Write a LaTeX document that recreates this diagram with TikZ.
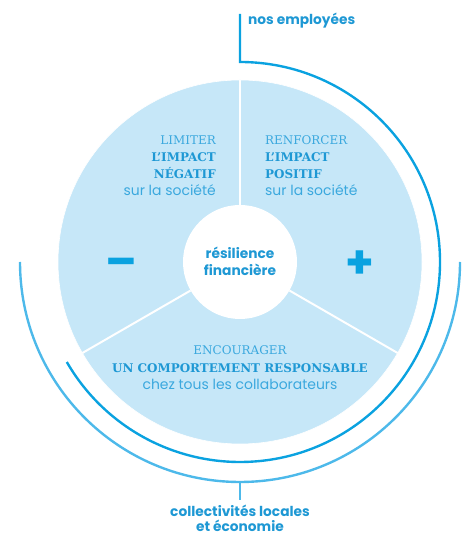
\documentclass[tikz,border=0pt]{standalone}
\usepackage{fontspec}
\setmainfont{DejaVu Serif}
\newfontfamily\pop{Poppins}
\definecolor{fillblue}{HTML}{C6E7F8}
\definecolor{txtlight}{HTML}{3AA8DE}
\definecolor{txtbold}{HTML}{1E98D4}
\definecolor{darkline}{HTML}{0AA2E0}
\definecolor{lightline}{HTML}{4DB9EA}
\tikzset{
  slablight/.style={inner sep=0pt, text=txtlight, font=\fontsize{12}{15}\selectfont},
  slabbold/.style={inner sep=0pt, text=txtbold, font=\fontsize{12}{15}\selectfont\bfseries},
  sanslight/.style={inner sep=0pt, text=txtlight, font=\pop\fontsize{14}{15}\selectfont},
  sansbold/.style={inner sep=0pt, text=txtbold, font=\pop\fontsize{13.8}{15}\selectfont\bfseries},
  signstyle/.style={inner sep=0pt, text=darkline, font=\pop\fontsize{46}{46}\selectfont\bfseries},
}
\begin{document}
\begin{tikzpicture}[x=1bp,y=1bp]
\useasboundingbox (0,0) rectangle (468,537);
\coordinate (O) at (240,275);
% disc
\fill[fillblue] (O) circle[radius=182];
\draw[white, line width=0.6] (O) circle[radius=182];
% dividers
\draw[white, line width=2] (O) ++(90:57) -- ++(90:125);
\draw[white, line width=2] (O) ++(210:57) -- ++(210:125);
\draw[white, line width=2] (O) ++(330:57) -- ++(330:125);
\fill[white] (O) circle[radius=57];
% inner arc (nos employees)
\coordinate (topend) at (240,523);
\draw[darkline, line width=2.4] (topend) -- (240,475) arc[start angle=90, end angle=-150, radius=200];
% outer arc (collectivites)
\coordinate (botend) at (240,37);
\draw[lightline, line width=2.4] (20,275) arc[start angle=180, end angle=360, radius=220];
\draw[lightline, line width=2.4] (240,55) -- (botend);
% labels outside
\node[sansbold, anchor=base west] (emp) at (248,512) {nos employées};
\node[sansbold, anchor=base] (col1) at (240,20) {collectivités locales};
\node[sansbold, anchor=base] (col2) at (240,5.5) {et économie};
% left block
\node[slablight, anchor=base east] (l1) at (216,392) {LIMITER};
\node[slabbold, anchor=base east] (l2) at (216,375) {L'IMPACT};
\node[slabbold, anchor=base east] (l3) at (216,358) {NÉGATIF};
\node[sanslight, anchor=base east] (l4) at (216,341) {sur la société};
% right block
\node[slablight, anchor=base west] (r1) at (265,392) {RENFORCER};
\node[slabbold, anchor=base west] (r2) at (265,375) {L'IMPACT};
\node[slabbold, anchor=base west] (r3) at (265,358) {POSITIF};
\node[sanslight, anchor=base west] (r4) at (265,341) {sur la société};
% centre
\node[sansbold, anchor=base] (c1) at (240,278) {résilience};
\node[sansbold, anchor=base] (c2) at (240,261) {financière};
% signs
\node[signstyle] (minus) at (121,269) {–};
\node[signstyle] (plus) at (360,272) {+};
% bottom block
\node[slablight, anchor=base] (b1) at (240,182) {ENCOURAGER};
\node[slabbold, anchor=base] (b2) at (240,164) {UN COMPORTEMENT RESPONSABLE};
\node[sanslight, anchor=base] (b3) at (240,147) {chez tous les collaborateurs};
\end{tikzpicture}
\end{document}
